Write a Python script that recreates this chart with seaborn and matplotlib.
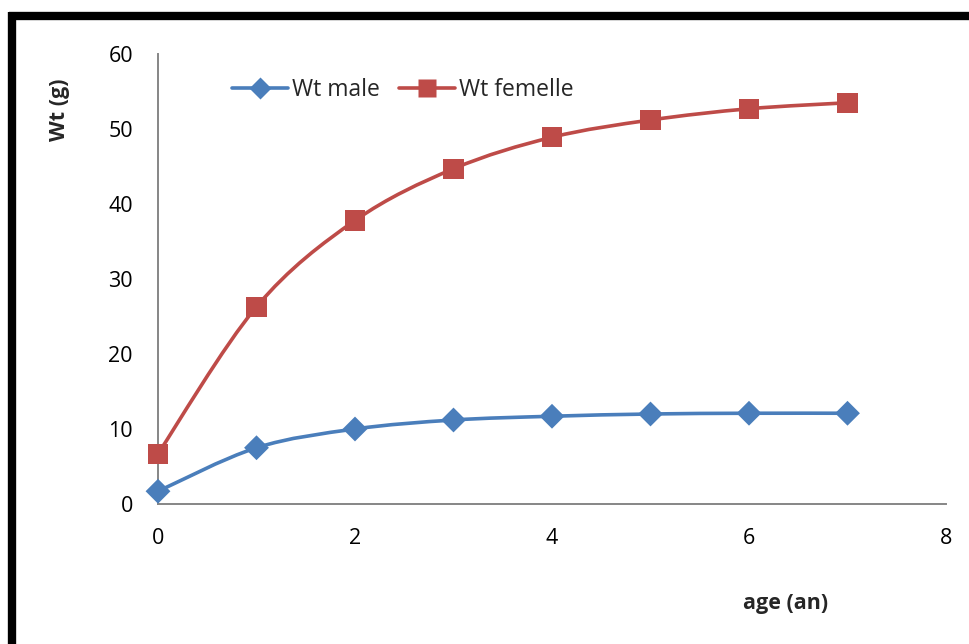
import matplotlib
matplotlib.use("Agg")
import matplotlib.pyplot as plt
import seaborn as sns
import numpy as np
from matplotlib.path import Path
from matplotlib.patches import PathPatch
from matplotlib.lines import Line2D

# Weight by age
age = [0, 1, 2, 3, 4, 5, 6, 7]
wt_male = [1.7, 7.5, 10.0, 11.2, 11.7, 12.0, 12.1, 12.1]
wt_femelle = [6.7, 26.3, 37.8, 44.7, 48.9, 51.2, 52.7, 53.5]
series_names = ["Wt male", "Wt femelle"]
x_ticks = [0, 2, 4, 6, 8]
y_ticks = [0, 10, 20, 30, 40, 50, 60]

BLUE = "#4A7EBB"
RED = "#BE4B48"
AXIS_GREY = "#868686"

sns.set_theme(style="white")
plt.rcParams["font.family"] = ["Open Sans", "DejaVu Sans"]

fig = plt.figure(figsize=(9.7, 6.44), dpi=100)
W, H = 970, 644
ax = fig.add_axes([158 / W, 1 - 504 / H, (946 - 158) / W, (504 - 54) / H])


def smooth_path(xs, ys):
    """Cubic Bezier path through the points (Catmull-Rom style tangents)."""
    pts = np.column_stack([xs, ys]).astype(float)
    n = len(pts)
    verts = [pts[0]]
    codes = [Path.MOVETO]
    for i in range(n - 1):
        p0 = pts[i - 1] if i > 0 else pts[i]
        p1 = pts[i]
        p2 = pts[i + 1]
        p3 = pts[i + 2] if i + 2 < n else pts[i + 1]
        c1 = p1 + (p2 - p0) / 6.0
        c2 = p2 - (p3 - p1) / 6.0
        verts += [c1, c2, p2]
        codes += [Path.CURVE4] * 3
    return Path(verts, codes)


for ys, col, mk, ms in [(wt_male, BLUE, "D", 160), (wt_femelle, RED, "s", 210)]:
    ax.add_patch(PathPatch(smooth_path(age, ys), facecolor="none", edgecolor=col,
                           lw=2.6, capstyle="round", joinstyle="round", zorder=2))
    sns.scatterplot(x=age, y=ys, marker=mk, s=ms, color=col, edgecolor="none",
                    ax=ax, legend=False, zorder=3, clip_on=False)

ax.set_xlim(0, 8)
ax.set_ylim(0, 60)
ax.set_xticks(x_ticks)
ax.set_yticks(y_ticks)
ax.tick_params(axis="both", direction="out", length=6, width=1.2, color=AXIS_GREY,
               labelsize=15.5, labelcolor="black")
ax.tick_params(axis="y", pad=12)
ax.tick_params(axis="x", pad=11)
for side in ["top", "right"]:
    ax.spines[side].set_visible(False)
for side in ["left", "bottom"]:
    ax.spines[side].set_color(AXIS_GREY)
    ax.spines[side].set_linewidth(1.4)
ax.set_xlabel("")
ax.set_ylabel("")

fig.text(60 / W, 1 - 110 / H, "Wt (g)", rotation=90, ha="center", va="center",
         fontsize=15.5, fontweight="bold")
fig.text(786 / W, 1 - 603 / H, "age (an)", ha="center", va="center",
         fontsize=15.5, fontweight="bold")

handles = [
    Line2D([], [], color=BLUE, lw=2.6, marker="D", markersize=11, markeredgecolor="none",
           solid_capstyle="round"),
    Line2D([], [], color=RED, lw=2.6, marker="s", markersize=13, markeredgecolor="none",
           solid_capstyle="round"),
]
ax.legend(handles, series_names, ncol=2, frameon=False, fontsize=16.5,
          loc="center left", bbox_to_anchor=((232 - 158) / (946 - 158), (504 - 90) / (504 - 54)),
          handlelength=2.45, handletextpad=0.15, columnspacing=0.85, borderpad=0, borderaxespad=0)

# Outer black frame (left and top edges)
fig.add_artist(Line2D([12 / W, 12 / W], [0, 1 - 12 / H], color="black", lw=6,
                      transform=fig.transFigure, solid_capstyle="butt"))
fig.add_artist(Line2D([9 / W, 1], [1 - 16 / H, 1 - 16 / H], color="black", lw=6,
                      transform=fig.transFigure, solid_capstyle="butt"))

fig.savefig("out.png", dpi=100)
